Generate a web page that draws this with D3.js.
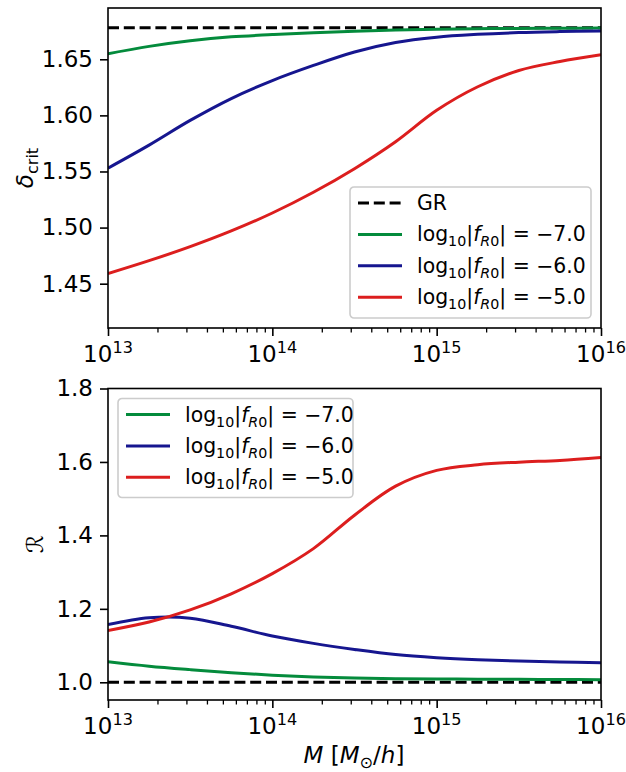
<!DOCTYPE html>
<html>
<head>
<meta charset="utf-8">
<script src="https://cdn.jsdelivr.net/npm/d3@7"></script>
<style>
  body { margin: 0; background: #fff; }
  text { font-family: "DejaVu Sans", sans-serif; fill: #000; }
</style>
</head>
<body>
<svg id="chart" width="626" height="772"></svg>
<script>
// log10(M / (Msun/h)) grid shared by all curves
const logMass = [13, 13.25, 13.5, 13.75, 14, 14.25, 14.5, 14.75, 15, 15.25, 15.5, 15.75, 16];

// top panel: critical density
const deltaGR = 1.678;
const deltaF7 = [1.655, 1.6615, 1.6665, 1.670, 1.672, 1.6737, 1.675, 1.676, 1.6767, 1.6772, 1.6775, 1.6777, 1.6778];
const deltaF6 = [1.553, 1.5735, 1.5955, 1.615, 1.631, 1.6445, 1.6565, 1.665, 1.6697, 1.6722, 1.6738, 1.6747, 1.6753];
const deltaF5 = [1.459, 1.4705, 1.483, 1.497, 1.513, 1.5315, 1.5525, 1.5765, 1.6045, 1.6255, 1.640, 1.648, 1.654];

// bottom panel: ratio R
const ratioGR = 1.0;
const ratioF7 = [1.056, 1.044, 1.0345, 1.026, 1.0195, 1.0145, 1.0115, 1.0098, 1.009, 1.0085, 1.008, 1.0075, 1.007];
const ratioF6 = [1.157, 1.1755, 1.1745, 1.1525, 1.126, 1.106, 1.0895, 1.0755, 1.067, 1.0615, 1.058, 1.0555, 1.0535];
const ratioF5 = [1.141, 1.164, 1.197, 1.241, 1.296, 1.364, 1.455, 1.534, 1.577, 1.5925, 1.5995, 1.604, 1.612];

const modelLabels = ["\u22127.0", "\u22126.0", "\u22125.0"];
const colors = ["#048b3c", "#16168f", "#dc1e1e"];

const xTickExps = [13, 14, 15, 16];
const deltaTicks = [1.45, 1.50, 1.55, 1.60, 1.65];
const ratioTicks = [1.0, 1.2, 1.4, 1.6, 1.8];

const svg = d3.select("#chart");
svg.append("rect").attr("width", 626).attr("height", 772).attr("fill", "#fff");

const left = 108, right = 601;
const tickFont = 23, legFont = 20.4;
const x = d3.scaleLog().domain([1e13, 1e16]).range([left, right]);

// writes log10|f_R0| = value as tspans
function fr0Label(t, val) {
  const s = legFont * 0.7, d = 5;
  t.append("tspan").text("log");
  t.append("tspan").style("font-size", s + "px").attr("dy", d).text("10");
  t.append("tspan").attr("dy", -d).text("|");
  t.append("tspan").attr("font-style", "italic").text("f");
  t.append("tspan").style("font-size", s + "px").attr("dy", d).attr("font-style", "italic").text("R");
  t.append("tspan").style("font-size", s + "px").text("0");
  t.append("tspan").attr("dy", -d).text("| = " + val);
}

function drawPanel(opt) {
  const g = svg.append("g");
  const y = d3.scaleLinear().domain(opt.yDomain).range([opt.bottom, opt.top]);
  const clipId = "clip" + Math.round(opt.top);
  svg.append("clipPath").attr("id", clipId)
    .append("rect").attr("x", left).attr("y", opt.top)
    .attr("width", right - left).attr("height", opt.bottom - opt.top);

  const line = d3.line()
    .x((d, i) => x(Math.pow(10, logMass[i])))
    .y(d => y(d))
    .curve(d3.curveCatmullRom.alpha(0.5));

  const plot = g.append("g").attr("clip-path", "url(#" + clipId + ")");
  // GR reference
  plot.append("line")
    .attr("x1", left).attr("x2", right)
    .attr("y1", y(opt.gr)).attr("y2", y(opt.gr))
    .attr("stroke", "#000").attr("stroke-width", 3)
    .attr("stroke-dasharray", "11,4.8");
  opt.series.forEach((s, i) => {
    plot.append("path")
      .attr("d", line(s))
      .attr("fill", "none")
      .attr("stroke", colors[i])
      .attr("stroke-width", 3);
  });

  // x axis: minor then major
  const minor = x.ticks().filter(v => Math.abs(Math.log10(v) % 1) > 1e-6);
  g.append("g").attr("transform", `translate(0,${opt.bottom})`)
    .call(d3.axisBottom(x).tickValues(minor).tickSize(4.5).tickFormat(""))
    .call(a => a.select(".domain").remove())
    .selectAll("line").attr("stroke-width", 1.3);
  g.append("g").attr("transform", `translate(0,${opt.bottom})`)
    .call(d3.axisBottom(x).tickValues(xTickExps.map(e => Math.pow(10, e))).tickSize(8).tickFormat(""))
    .call(a => a.select(".domain").remove())
    .selectAll("line").attr("stroke-width", 1.6);
  xTickExps.forEach(e => {
    const t = g.append("text")
      .attr("x", x(Math.pow(10, e))).attr("y", opt.bottom + 34)
      .attr("text-anchor", "middle").style("font-size", tickFont + "px");
    t.append("tspan").text("10");
    t.append("tspan").style("font-size", (tickFont * 0.7) + "px").attr("dy", -9.5).text(e);
  });

  // y axis
  const ya = g.append("g").attr("transform", `translate(${left},0)`)
    .call(d3.axisLeft(y).tickValues(opt.yTicks).tickSize(8).tickPadding(7).tickFormat(d3.format(opt.fmt)));
  ya.select(".domain").remove();
  ya.selectAll("line").attr("stroke-width", 1.6);
  ya.selectAll("text").style("font-size", tickFont + "px").style("font-family", "DejaVu Sans");

  // frame
  g.append("rect")
    .attr("x", left).attr("y", opt.top)
    .attr("width", right - left).attr("height", opt.bottom - opt.top)
    .attr("fill", "none").attr("stroke", "#000").attr("stroke-width", 1.6);

  // legend
  const lg = opt.legend;
  const lgG = g.append("g").attr("transform", `translate(${lg.x},${lg.y})`);
  lgG.append("rect")
    .attr("width", lg.w).attr("height", lg.h).attr("rx", 4)
    .attr("fill", "#fff").attr("fill-opacity", 0.8)
    .attr("stroke", "#cccccc").attr("stroke-width", 1.6);
  lg.items.forEach((it, i) => {
    const cy = 16 + i * 31.4;
    lgG.append("line")
      .attr("x1", 8).attr("x2", 52).attr("y1", cy).attr("y2", cy)
      .attr("stroke", it.color).attr("stroke-width", 3)
      .attr("stroke-dasharray", it.dash ? "11,4.8" : null);
    const t = lgG.append("text").attr("x", 67).attr("y", cy + 7).style("font-size", legFont + "px");
    if (it.gr) t.text("GR"); else fr0Label(t, it.label);
  });
}

const frItems = modelLabels.map((l, i) => ({label: l, color: colors[i]}));

drawPanel({
  top: 8, bottom: 328,
  yDomain: [1.4105, 1.6957],
  yTicks: deltaTicks, fmt: ".2f",
  gr: deltaGR,
  series: [deltaF7, deltaF6, deltaF5],
  legend: {x: 350, y: 187, w: 241, h: 131,
           items: [{gr: true, color: "#000", dash: true}].concat(frItems)}
});

drawPanel({
  top: 388.5, bottom: 700,
  yDomain: [0.9518, 1.8],
  yTicks: ratioTicks, fmt: ".1f",
  gr: ratioGR,
  series: [ratioF7, ratioF6, ratioF5],
  legend: {x: 118, y: 398.5, w: 235, h: 99, items: frItems}
});

// axis labels
const yl1 = svg.append("text")
  .attr("transform", "translate(33,168) rotate(-90)")
  .attr("text-anchor", "middle").style("font-size", tickFont + "px");
yl1.append("tspan").attr("font-style", "italic").text("\u03b4");
yl1.append("tspan").style("font-size", (tickFont * 0.7) + "px").attr("dy", 5).text("crit");

svg.append("text")
  .attr("transform", "translate(43,544) rotate(-90)")
  .attr("text-anchor", "middle").style("font-size", tickFont + "px")
  .text("\u211b");

const xl = svg.append("text")
  .attr("x", 354).attr("y", 763)
  .attr("text-anchor", "middle").style("font-size", tickFont + "px");
xl.append("tspan").attr("font-style", "italic").text("M");
xl.append("tspan").text(" [");
xl.append("tspan").attr("font-style", "italic").text("M");
xl.append("tspan").style("font-size", (tickFont * 0.7) + "px").attr("dy", 5).text("\u2299");
xl.append("tspan").attr("dy", -5).text("/");
xl.append("tspan").attr("font-style", "italic").text("h");
xl.append("tspan").text("]");
</script>
</body>
</html>
